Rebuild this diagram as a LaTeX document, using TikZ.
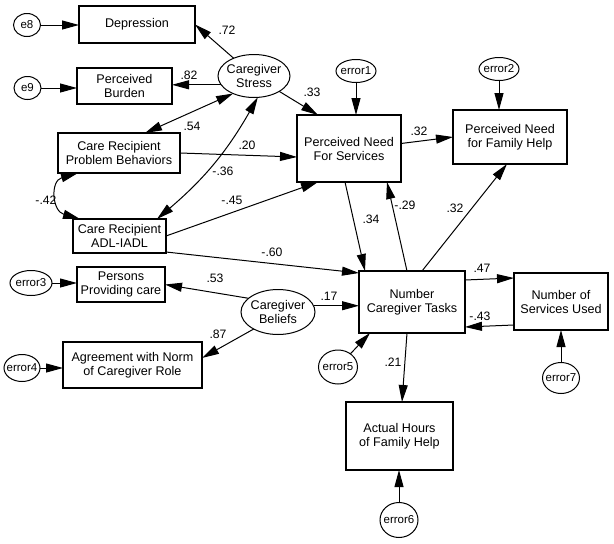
\documentclass[tikz,border=0pt]{standalone}
\usepackage{fontspec}
\setmainfont{Liberation Sans}
\usetikzlibrary{arrows.meta,calc,shapes.geometric}
\begin{document}
\begin{tikzpicture}[x=1pt,y=-1pt,
  box/.style={draw,line width=1.1pt,align=center,inner sep=0pt,outer sep=0pt,font=\fontsize{12.6}{14}\selectfont},
  lat/.style={draw,ellipse,line width=1pt,inner sep=0pt,outer sep=0pt},
  txt/.style={align=center,inner sep=0pt,font=\fontsize{12.6}{14}\selectfont},
  etxt/.style={inner sep=0pt,font=\fontsize{11.5}{13}\selectfont},
  arr/.style={line width=1pt,-{Triangle[length=17pt,width=9pt]}},
  dbl/.style={line width=1pt,{Triangle[length=17pt,width=9pt]}-{Triangle[length=17pt,width=9pt]}},
  lbl/.style={font=\fontsize{12.2}{14}\selectfont,inner sep=0pt}
]
\fill[white] (0,0) rectangle (614,544);
\useasboundingbox (0,0) rectangle (614,544);

% boxes
\node[box,minimum width=116pt,minimum height=37pt] (dep) at (137,24.5) {Depression};
\node[box,minimum width=95pt,minimum height=36pt] (bur) at (124.5,86) {Perceived\\Burden};
\node[box,minimum width=122pt,minimum height=40pt] (pb) at (119,153) {Care Recipient\\Problem Behaviors};
\node[box,minimum width=93pt,minimum height=34pt] (adl) at (119.5,236) {Care Recipient\\ADL-IADL};
\node[box,minimum width=104pt,minimum height=67pt] (pns) at (349,148.5) {Perceived Need\\For Services};
\node[box,minimum width=114pt,minimum height=54pt] (pfh) at (510,137) {Perceived Need\\for Family Help};
\node[box,minimum width=106pt,minimum height=62pt] (nct) at (412,302) {Number\\Caregiver Tasks};
\node[box,minimum width=94pt,minimum height=57pt] (nsu) at (561,301.5) {Number of\\Services Used};
\node[box,minimum width=88pt,minimum height=35pt] (ppc) at (121,284.5) {Persons\\Providing care};
\node[box,minimum width=139pt,minimum height=46pt] (agr) at (132.5,365) {Agreement with Norm\\of Caregiver Role};
\node[box,minimum width=107pt,minimum height=68pt] (ahf) at (399.5,436) {Actual Hours\\of Family Help};

% latent ellipses
\node[lat,minimum width=72pt,minimum height=43pt,label={[txt]center:Caregiver\\Stress}] (cs) at (254,76) {};
\node[lat,minimum width=74pt,minimum height=45pt,label={[txt]center:Caregiver\\Beliefs}] (cb) at (278,312) {};

% error terms
\node[lat,minimum width=27pt,minimum height=23pt,label={[etxt]center:e8}] (e8) at (27,25) {};
\node[lat,minimum width=27pt,minimum height=23pt,label={[etxt]center:e9}] (e9) at (27.5,88) {};
\node[lat,minimum width=40pt,minimum height=23pt,label={[etxt]center:error1}] (er1) at (356,71) {};
\node[lat,minimum width=40pt,minimum height=23pt,label={[etxt]center:error2}] (er2) at (499,69) {};
\node[lat,minimum width=42pt,minimum height=25pt,label={[etxt]center:error3}] (er3) at (31,283) {};
\node[lat,minimum width=36pt,minimum height=27pt,label={[etxt]center:error4}] (er4) at (22,368) {};
\node[lat,minimum width=39pt,minimum height=34pt,label={[etxt]center:error5}] (er5) at (338,367) {};
\node[lat,minimum width=38pt,minimum height=35pt,label={[etxt]center:error6}] (er6) at (399,520) {};
\node[lat,minimum width=37pt,minimum height=31pt,label={[etxt]center:error7}] (er7) at (561,378) {};

% error arrows
\draw[arr] (e8.east) -- (e8.east -| dep.west);
\draw[arr] (e9.east) -- (e9.east -| bur.west);
\draw[arr] (er1.south) -- (er1.south |- pns.north);
\draw[arr] (er2.south) -- (er2.south |- pfh.north);
\draw[arr] (er3.east) -- (er3.east -| ppc.west);
\draw[arr] (er4.east) -- (er4.east -| agr.west);
\draw[arr] (er5) -- ($(nct.south west)+(11,0)$);
\draw[arr] (er6.north) -- (er6.north |- ahf.south);
\draw[arr] (er7.north) -- (er7.north |- nsu.south);

% structural paths
\draw[arr] (cs) -- (dep.east);
\draw[arr] (cs.195) -- (cs.195 -| bur.east);
\draw[dbl] (cs.220) -- ($(pb.north east)+(-35,0)$);
\draw[dbl] (cs.280) to[bend left=10] ($(adl.north east)+(-9,0)$);
\draw[arr] (cs) -- ($(pns.north west)+(21,0)$);
\draw[arr] (pb.east) -- ($(pns.west)+(0,8.5)$);
\draw[arr] (adl.east) -- ($(pns.south west)+(21,0)$);
\draw[arr] ($(adl.south east)+(0,-1)$) -- ($(nct.north west)+(0,2)$);
\draw[dbl] ($(pb.south west)+(20,0)$) .. controls ($(pb.south west)+(-8,8)$) and ($(adl.north west)+(-21,-8)$) .. ($(adl.north west)+(7,0)$);
\draw[arr] ($(pns.east)+(0,-5)$) -- (pfh.west);
\draw[arr] ($(pns.south)+(-4,0)$) -- ($(nct.north west)+(6,0)$);
\draw[arr] ($(nct.north)+(-5,0)$) -- ($(pns.south east)+(-14,0)$);
\draw[arr] ($(nct.north)+(10,0)$) -- ($(pfh.south)+(-3,0)$);
\draw[arr] (cb.155) -- (ppc.east);
\draw[arr] (cb.215) -- ($(agr.east)+(0,-7)$);
\draw[arr] (cb.10) -- (cb.10 -| nct.west);
\draw[arr] ($(nct.south)+(-5,0)$) -- ($(ahf.north)+(2.5,0)$);
\draw[arr] ($(nct.north east)+(0,9)$) -- ($(nsu.north west)+(0,5)$);
\draw[arr] ($(nsu.south west)+(0,-5)$) -- ($(nct.south east)+(0,-6)$);

% coefficient labels
\node[lbl] (l72) at (227,30) {.72};
\node[lbl] (l82) at (189,75) {.82};
\node[lbl] (l33) at (312,92) {.33};
\node[lbl] (l54) at (192,126) {.54};
\node[lbl] (l20) at (247,145) {.20};
\node[lbl] (l36) at (223,171) {-.36};
\node[lbl] (l42) at (46,200) {-.42};
\node[lbl] (l45) at (232,200) {-.45};
\node[lbl] (l60) at (272,252) {-.60};
\node[lbl] (l53) at (215,278) {.53};
\node[lbl] (l87) at (218,334) {.87};
\node[lbl] (l17) at (329,296) {.17};
\node[lbl] (l32a) at (419,131) {.32};
\node[lbl] (l32b) at (455,208) {.32};
\node[lbl] (l34) at (371,219) {.34};
\node[lbl] (l29) at (405,205) {-.29};
\node[lbl] (l47) at (482,268) {.47};
\node[lbl] (l43) at (480,316) {-.43};
\node[lbl] (l21) at (393,362) {.21};
\end{tikzpicture}
\end{document}
